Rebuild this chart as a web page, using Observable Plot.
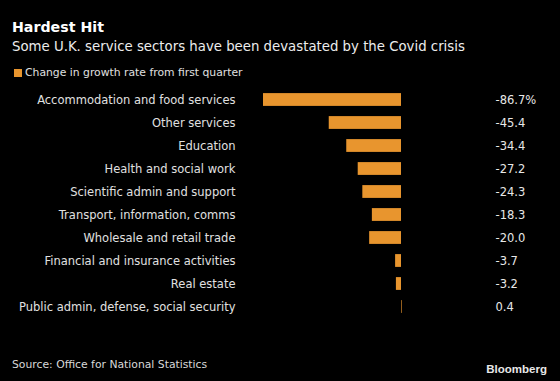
<!DOCTYPE html>
<html>
<head>
<meta charset="utf-8">
<script src="https://cdn.jsdelivr.net/npm/d3@7"></script>
<script src="https://cdn.jsdelivr.net/npm/@observablehq/plot@0.6"></script>
<style>
  html, body { margin: 0; padding: 0; background: #000; }
  body { width: 560px; height: 381px; position: relative; overflow: hidden; font-family: "DejaVu Sans", sans-serif; color: #e0e0e0; }
  .t { position: absolute; line-height: 1; white-space: nowrap; }
  #title { left: 12px; top: 20px; font-size: 14.2px; font-weight: bold; color: #fff; }
  #subtitle { left: 12px; top: 39.8px; font-size: 13.3px; color: #ececec; }
  #legend { left: 25px; top: 67.6px; font-size: 10.8px; color: #e0e0e0; }
  #sw { position: absolute; left: 14px; top: 69px; width: 8px; height: 8px; background: #e8952e; }
  #chart { position: absolute; left: 0; top: 85px; line-height: 0; }
  #source { left: 12px; top: 360px; font-size: 10.8px; color: #d8d8d8; }
  #brand { right: 13px; top: 363.6px; font-size: 11.5px; font-weight: bold; color: #e8e8e8; font-family: "Liberation Sans", Arial, sans-serif; }
</style>
</head>
<body>
<div id="title" class="t">Hardest Hit</div>
<div id="subtitle" class="t">Some U.K. service sectors have been devastated by the Covid crisis</div>
<div id="sw"></div>
<div id="legend" class="t">Change in growth rate from first quarter</div>
<div id="chart"></div>
<div id="source" class="t">Source: Office for National Statistics</div>
<div id="brand" class="t">Bloomberg</div>
<script>
const sectors = [
  "Accommodation and food services",
  "Other services",
  "Education",
  "Health and social work",
  "Scientific admin and support",
  "Transport, information, comms",
  "Wholesale and retail trade",
  "Financial and insurance activities",
  "Real estate",
  "Public admin, defense, social security"
];
const values = [-86.7, -45.4, -34.4, -27.2, -24.3, -18.3, -20.0, -3.7, -3.2, 0.4];
const valueLabels = ["-86.7%", "-45.4", "-34.4", "-27.2", "-24.3", "-18.3", "-20.0", "-3.7", "-3.2", "0.4"];

const data = sectors.map((s, i) => ({sector: s, value: values[i], label: valueLabels[i]}));

const chart = Plot.plot({
  width: 560,
  height: 235,
  marginTop: 0,
  marginBottom: 0,
  marginLeft: 263,
  marginRight: 159,
  style: {background: "#000", color: "#e0e0e0", fontFamily: "DejaVu Sans, sans-serif", fontSize: "11.5px"},
  x: {domain: [-86.7, 0], axis: null},
  y: {domain: sectors, padding: 0, label: null, tickSize: 0, tickPadding: 28},
  marks: [
    Plot.barX(data, {x: "value", y: "sector", fill: "#e8952e", insetTop: 5.1, insetBottom: 5.1}),
    Plot.text(data, {y: "sector", text: "label", frameAnchor: "right", dx: 94, textAnchor: "start", fill: "#e8e8e8", fontSize: 11.5})
  ]
});
chart.style.display = "block";
document.getElementById("chart").appendChild(chart);
</script>
</body>
</html>
